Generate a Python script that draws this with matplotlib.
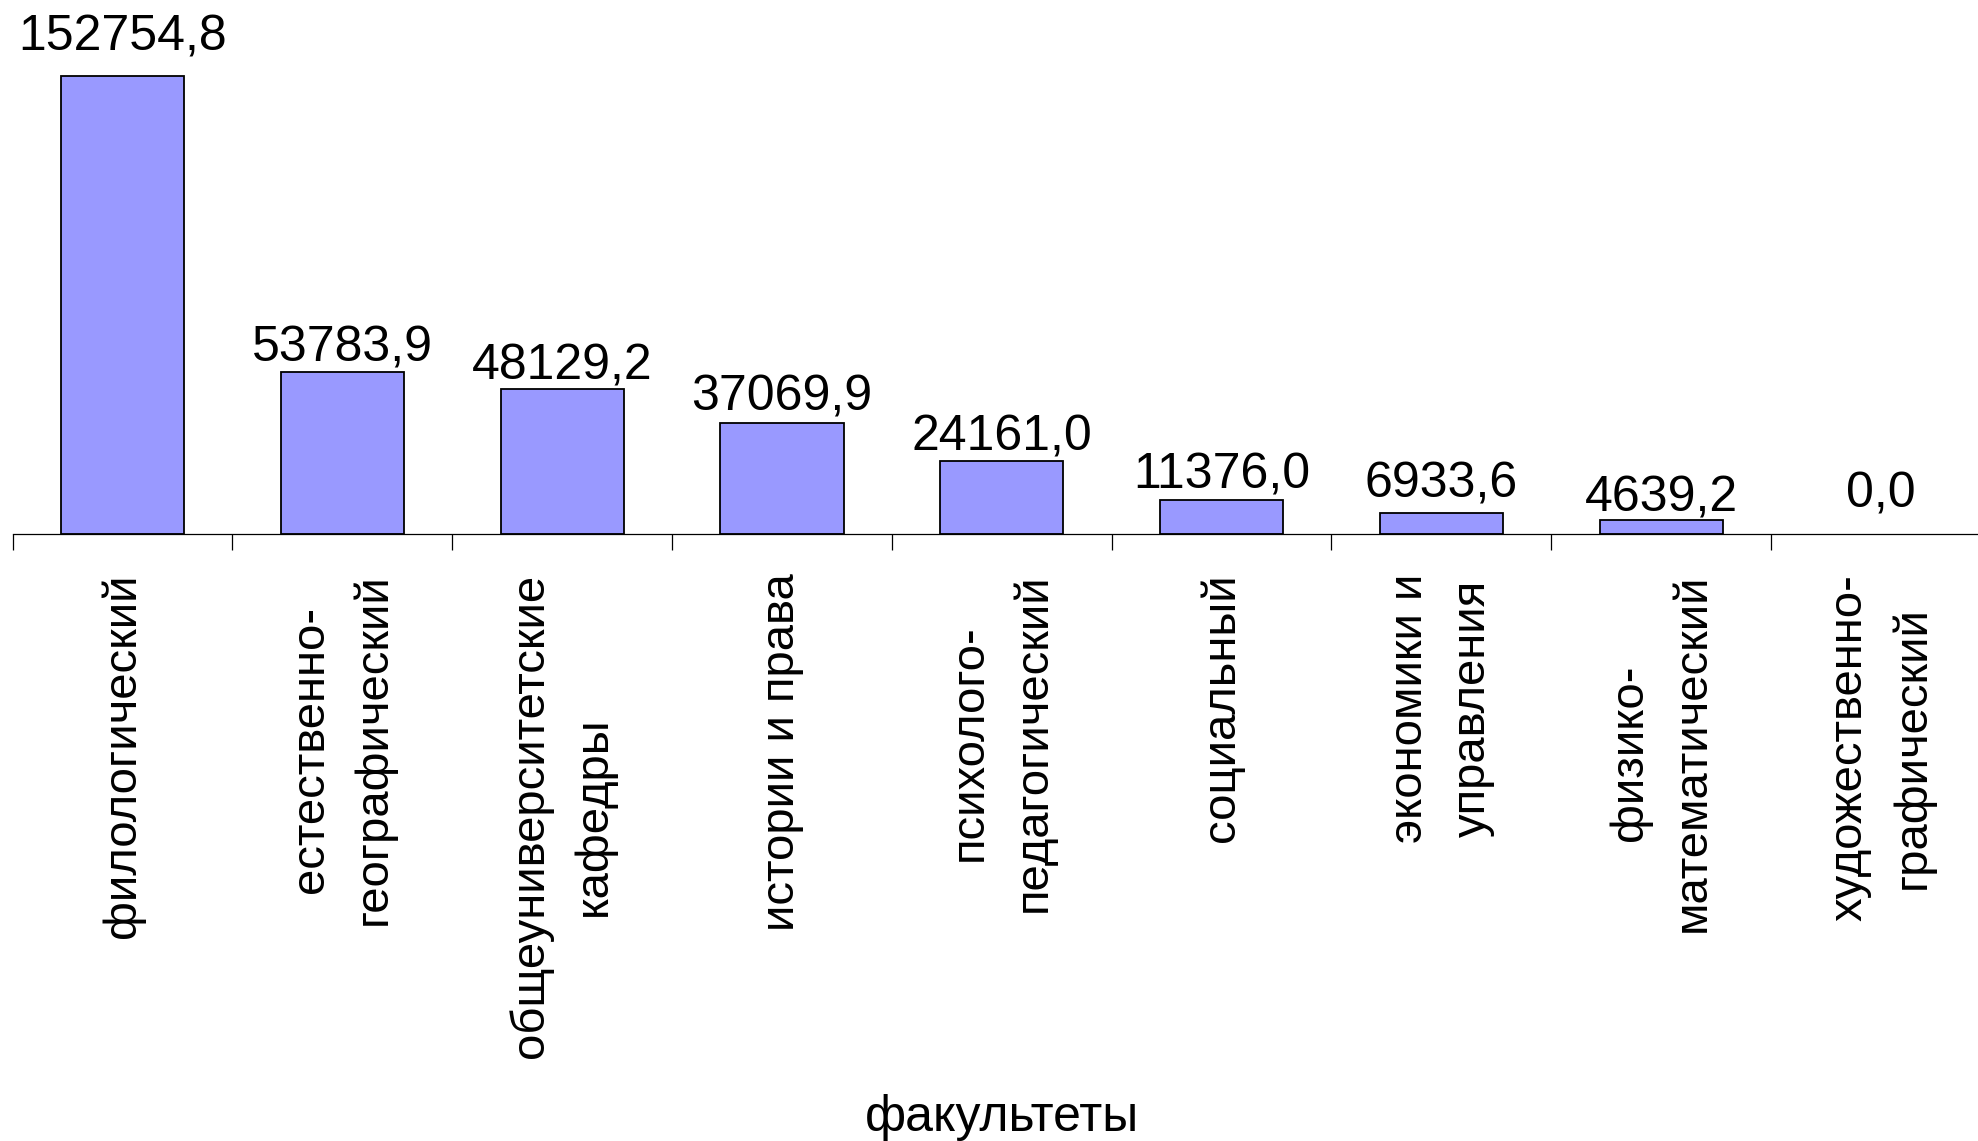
import numpy as np
import matplotlib
matplotlib.use("Agg")
import matplotlib.pyplot as plt

plt.rcParams['font.family'] = ['Liberation Sans', 'DejaVu Sans']

faculties = ["филологический", "естественно-\nгеографический",
             "общеуниверситетские\nкафедры", "истории и права",
             "психолого-\nпедагогический", "социальный",
             "экономики и\nуправления", "физико-\nматематический",
             "художественно-\nграфический"]
values = [152754.8, 53783.9, 48129.2, 37069.9, 24161.0, 11376.0, 6933.6, 4639.2, 0.0]

# gap between bar top and label baseline (points), as in the original
label_gap = [18, 8, 7, 9, 8, 8, 11, 6, 19]

x = np.arange(len(faculties))

fig = plt.figure(figsize=(19.78, 11.41), dpi=100)
ax = fig.add_axes([0.0064, 0.5323, 1.0001, 0.4677])

edges = ["black" if v > 0 else "none" for v in values]
ax.bar(x, values, width=0.56, color="#9999ff", edgecolor=edges, linewidth=1.3)

for i, v in enumerate(values):
    ax.annotate(f"{v:.1f}".replace(".", ","), xy=(i, v), xytext=(0, label_gap[i]),
                textcoords="offset points", ha="center", va="baseline",
                fontsize=36)

ax.set_xlim(-0.5, len(faculties) - 0.5)
ax.set_ylim(0, 178000)

for s in ["left", "right", "top"]:
    ax.spines[s].set_visible(False)
ax.spines["bottom"].set_linewidth(0.9)
ax.set_yticks([])

ax.set_xticks(x)
ax.set_xticklabels(faculties, rotation=90, fontsize=34, ha="center",
                   va="top", multialignment="center", linespacing=1.55)
ax.tick_params(axis="x", which="major", length=0, pad=28.8)
ax.set_xticks(np.arange(len(faculties)) - 0.5, minor=True)
ax.tick_params(axis="x", which="minor", length=11.5, width=0.9, direction="out")

ax.set_xlabel("факультеты", fontsize=36, labelpad=26)

fig.savefig("out.png", dpi=100)
